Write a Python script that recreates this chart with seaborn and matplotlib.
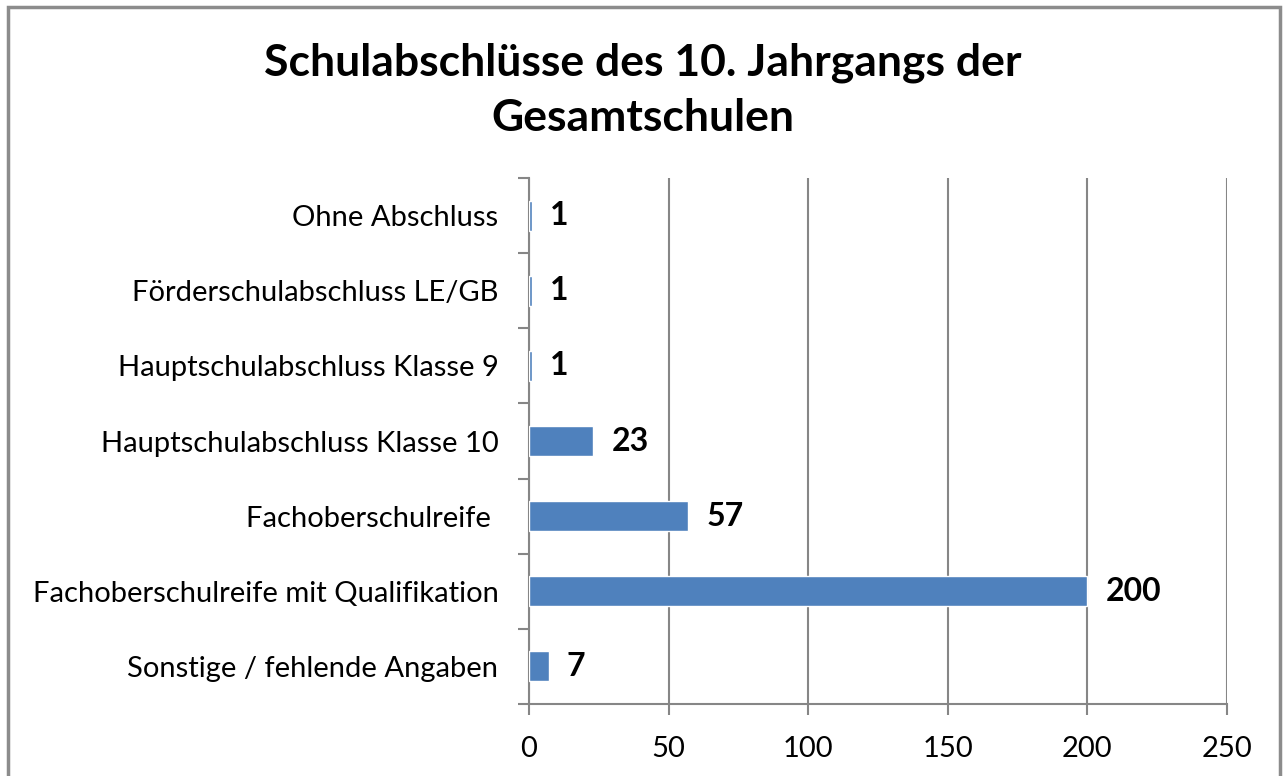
import matplotlib
matplotlib.use("Agg")
import matplotlib.pyplot as plt
import seaborn as sns
import pandas as pd
from matplotlib.patches import Rectangle

categories = [
    "Ohne Abschluss",
    "Förderschulabschluss LE/GB",
    "Hauptschulabschluss Klasse 9",
    "Hauptschulabschluss Klasse 10",
    "Fachoberschulreife ",
    "Fachoberschulreife mit Qualifikation",
    "Sonstige / fehlende Angaben",
]
values = [1, 1, 1, 23, 57, 200, 7]
x_ticks = [0, 50, 100, 150, 200, 250]

df = pd.DataFrame({"Abschluss": categories, "Anzahl": values})

sns.set_theme(style="white")
plt.rcParams["font.family"] = ["Lato", "DejaVu Sans"]
plt.rcParams["text.color"] = "black"
plt.rcParams["xtick.labelcolor"] = "black"
plt.rcParams["ytick.labelcolor"] = "black"

grid_col = "#868686"
fig = plt.figure(figsize=(12.86, 7.76), dpi=100)
ax = fig.add_axes([529 / 1286, 1 - 704 / 776, (1227 - 529) / 1286, (704 - 178) / 776])

sns.barplot(data=df, x="Anzahl", y="Abschluss", color="#4F81BD", width=0.4,
            saturation=1, ax=ax, zorder=3)

ax.set_xlim(0, 250)
ax.set_ylim(len(categories) - 0.5, -0.5)
ax.set_xticks(x_ticks)
ax.set_xlabel("")
ax.set_ylabel("")
ax.xaxis.grid(True, color=grid_col, linewidth=1.5, zorder=0)
ax.set_axisbelow(True)

for side in ["top", "right"]:
    ax.spines[side].set_visible(False)
for side in ["left", "bottom"]:
    ax.spines[side].set_color(grid_col)
    ax.spines[side].set_linewidth(1.5)

# category tick marks between bars
ax.set_yticks([i - 0.5 for i in range(len(categories) + 1)], minor=False)
ax.set_yticklabels([])
ax.set_yticks(range(len(categories)), minor=True)
ax.set_yticklabels(categories, minor=True, fontsize=21, color="black")
ax.tick_params(axis="y", which="major", length=8, width=1.5, color=grid_col, left=True)
ax.tick_params(axis="y", which="minor", length=0, pad=22)
ax.tick_params(axis="x", length=8, width=1.5, color=grid_col, bottom=True,
               labelsize=21, labelcolor="black", pad=15)

for i, v in enumerate(values):
    ax.text(v + 6.5, i, str(v), va="center", ha="left", fontsize=23,
            fontweight="bold", color="black")

fig.text(0.5, 1 - 90 / 776, "Schulabschlüsse des 10. Jahrgangs der\nGesamtschulen",
         ha="center", va="center", fontsize=32, fontweight="bold", linespacing=1.45,
         color="black")

fig.patches.append(Rectangle((8 / 1286, -0.05), (1280 - 8) / 1286, 1.05 - 7 / 776,
                             transform=fig.transFigure, fill=False,
                             edgecolor="#8C8C8C", linewidth=2.5))

fig.savefig("out.png", dpi=100)
